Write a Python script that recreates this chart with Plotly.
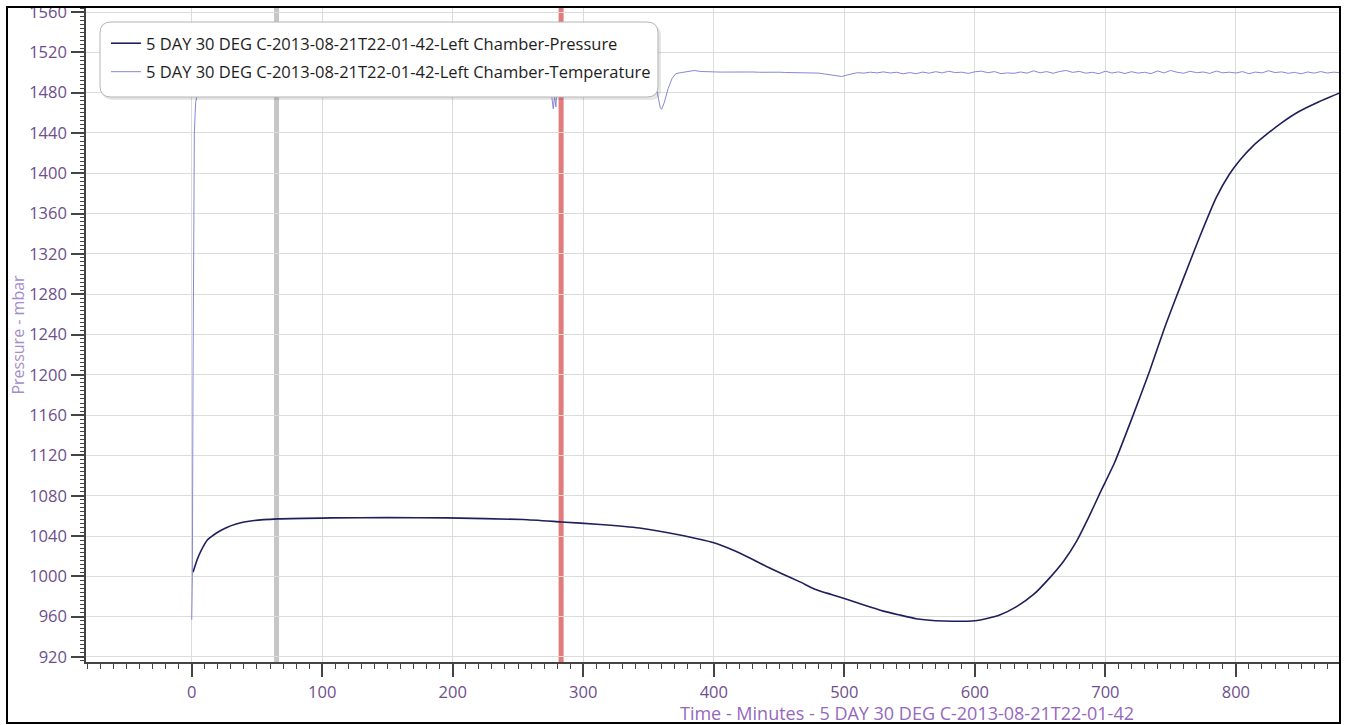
import plotly.graph_objects as go

# ---------------- data ----------------
pressure_time = [1, 4, 7, 12, 19, 26, 34, 48, 66, 107, 150, 196, 254, 283, 313, 343,
                 372, 400, 415, 428, 440, 453, 466, 478, 490, 500, 515, 530, 543, 555,
                 570, 583, 600, 610, 619, 632, 645, 657, 668, 678, 687, 696, 707, 721,
                 734, 746, 759, 772, 785, 795, 803, 813, 823, 835, 848, 862, 879]
pressure_val = [1004, 1016, 1025, 1036, 1043, 1048, 1052, 1055.4, 1057, 1058, 1058.3, 1058,
                1056.4, 1054, 1051.5, 1048, 1041.6, 1033.4, 1026, 1018, 1010, 1002, 994.5,
                987, 982, 978, 971.5, 965.5, 961.5, 958, 956, 955.5, 956, 958.5, 961.7, 970,
                982, 998, 1015, 1035, 1058, 1083, 1112.7, 1159, 1204, 1249, 1293, 1336,
                1376, 1399, 1413, 1427, 1438, 1450, 1461, 1470, 1479.5]

temp_time = [0, 0.5, 1, 1.5, 2, 3, 5, 8, 15, 60, 120, 180, 240, 270, 274, 276, 277, 278,
             279, 280, 283, 290, 320, 350, 354, 357, 359, 360, 362, 365, 368, 371, 375,
             380, 385, 390, 395,
             400, 405, 410, 415, 420, 425, 430, 435, 440, 445, 450, 455, 460, 465, 470,
             475, 480, 485, 490, 495, 498, 502, 506, 510, 515, 520, 525, 530, 535, 540,
             545, 550, 555, 560, 565, 570, 575, 580, 585, 590, 595, 600, 605, 610, 615,
             620, 625, 630, 635, 640, 645, 650, 655, 660, 665, 670, 675, 680, 685, 690,
             695, 700, 705, 710, 715, 720, 725, 730, 735, 740, 745, 750, 755, 760, 765,
             770, 775, 780, 785, 790, 795, 800, 805, 810, 815, 820, 825, 830, 835, 840,
             845, 850, 855, 860, 865, 870, 875, 880]
temp_val = [957, 1000, 1200, 1400, 1440, 1470, 1484, 1494, 1499, 1500, 1500, 1500, 1500,
            1500, 1496, 1478, 1464, 1476, 1466, 1488, 1499, 1500, 1500, 1499, 1494, 1478,
            1465, 1463.5, 1470, 1484, 1494, 1499, 1500, 1501, 1502, 1501, 1500.5,
            1500.6, 1500.4, 1500.5, 1500.2, 1500.4, 1500.3, 1500.5, 1500.2, 1500.4, 1500.5,
            1500.3, 1500.0, 1499.8, 1500.1, 1499.7, 1499.5, 1499.4, 1498.5, 1497.5, 1496.5,
            1496.0, 1497.5, 1499.0, 1499.8, 1499.4, 1500.3, 1499.6, 1500.6, 1499.5, 1500.2,
            1498.7, 1499.9, 1498.8, 1500.4, 1499.3, 1500.8, 1499.6, 1501.2, 1499.9, 1500.3,
            1499.1, 1500.7, 1501.3, 1499.8, 1500.9, 1498.9, 1499.6, 1499.2, 1500.5, 1499.4,
            1501.6, 1499.7, 1500.9, 1499.2, 1501.0, 1502.0, 1500.1, 1501.1, 1499.3, 1500.2,
            1498.8, 1501.3, 1499.5, 1500.6, 1499.0, 1500.8, 1499.4, 1500.2, 1498.9, 1501.5,
            1499.6, 1502.0, 1500.2, 1499.3, 1501.2, 1499.8, 1500.5, 1499.1, 1501.4, 1499.7,
            1500.3, 1499.5, 1500.9, 1498.8, 1500.4, 1499.6, 1501.8, 1499.9, 1500.6, 1499.2,
            1500.1, 1498.7, 1500.5, 1499.4, 1500.9, 1499.5, 1500.3, 1499.8]

marker_grey = 65
marker_red = 283

name_p = "5 DAY 30 DEG C-2013-08-21T22-01-42-Left Chamber-Pressure"
name_t = "5 DAY 30 DEG C-2013-08-21T22-01-42-Left Chamber-Temperature"
x_title = "Time - Minutes - 5 DAY 30 DEG C-2013-08-21T22-01-42"
y_title = "Pressure - mbar"

# ---------------- layout geometry (pixels) ----------------
W, H = 1346, 725
L, R, T, B = 86, 1339, 8, 662


def px(xp):
    return (xp - L) / (R - L)


def py(yp):
    return (B - yp) / (B - T)


def rounded_path(x0, y0, x1, y1, r):
    rx = r / (R - L)
    ry = r / (B - T)
    X0, X1 = px(x0), px(x1)
    Y0, Y1 = py(y0), py(y1)  # Y0 top, Y1 bottom
    return (f"M {X0+rx},{Y0} L {X1-rx},{Y0} Q {X1},{Y0} {X1},{Y0-ry} "
            f"L {X1},{Y1+ry} Q {X1},{Y1} {X1-rx},{Y1} L {X0+rx},{Y1} "
            f"Q {X0},{Y1} {X0},{Y1+ry} L {X0},{Y0-ry} Q {X0},{Y0} {X0+rx},{Y0} Z")


fig = go.Figure()
fig.add_trace(go.Scatter(x=pressure_time, y=pressure_val, mode="lines", name=name_p,
                         line=dict(color="#1f1f5c", width=1.6, shape="spline", smoothing=0.5),
                         legendgroup="p"))
fig.add_trace(go.Scatter(x=temp_time, y=temp_val, mode="lines", name=name_t,
                         line=dict(color="#8787d8", width=1),
                         legendgroup="t"))

tick_font = dict(family="Open Sans", size=16.5, color="#6e4f8e")

fig.update_layout(
    width=W, height=H,
    margin=dict(l=L, r=W - R, t=T, b=H - B, autoexpand=False),
    paper_bgcolor="white", plot_bgcolor="white",
    font=dict(family="Open Sans"),
    showlegend=True,
    legend=dict(x=px(106), y=py(26), xanchor="left", yanchor="top",
                bgcolor="rgba(0,0,0,0)", borderwidth=0,
                font=dict(family="Open Sans", size=16.5, color="#1e1e1e"),
                traceorder="grouped", tracegroupgap=4, itemwidth=30),
    xaxis=dict(range=[-81, 879], dtick=100, tick0=0, showgrid=True,
               gridcolor="#dcdcdc", gridwidth=1, zeroline=False,
               showline=True, linecolor="#444444", linewidth=1.5,
               ticks="outside", ticklen=13, tickwidth=1.5, tickcolor="#444444",
               tickfont=tick_font, ticklabelstandoff=1,
               minor=dict(dtick=10, ticks="outside", ticklen=5, tickcolor="#444444",
                          tickwidth=1, showgrid=False)),
    yaxis=dict(range=[915, 1564], dtick=40, tick0=920, showgrid=True,
               gridcolor="#dcdcdc", gridwidth=1, zeroline=False,
               showline=True, linecolor="#444444", linewidth=1.5,
               ticks="outside", ticklen=13, tickwidth=1.5, tickcolor="#444444",
               tickfont=tick_font, ticklabelstandoff=1, ticklabeloverflow="allow",
               title=dict(text=y_title, standoff=0,
                          font=dict(family="Open Sans", size=16, color="#a58dc9")),
               minor=dict(dtick=4, ticks="outside", ticklen=4, tickcolor="#444444",
                          tickwidth=1, showgrid=False)),
)

# marker lines
fig.add_shape(type="line", xref="x", yref="paper", x0=marker_grey, x1=marker_grey,
              y0=0, y1=1, line=dict(color="#c6c6c6", width=5), layer="between")
fig.add_shape(type="line", xref="x", yref="paper", x0=marker_red, x1=marker_red,
              y0=0, y1=1, line=dict(color="#e27c7c", width=5), layer="between")

# legend box with shadow
fig.add_shape(type="path", xref="paper", yref="paper",
              path=rounded_path(102, 25, 661, 100, 11),
              fillcolor="rgba(0,0,0,0.10)", line=dict(width=0), layer="above")
fig.add_shape(type="path", xref="paper", yref="paper",
              path=rounded_path(100, 22, 658, 97, 11),
              fillcolor="white", line=dict(color="#b4b4b4", width=1), layer="above")

# white band above the frame (clips the top tick label) and outer frame
fig.add_shape(type="rect", xref="paper", yref="paper",
              x0=px(0), x1=px(W), y0=py(6), y1=py(0),
              fillcolor="white", line=dict(width=0), layer="above")
fig.add_shape(type="rect", xref="paper", yref="paper",
              x0=px(7), x1=px(1340), y0=py(723), y1=py(7),
              fillcolor="rgba(0,0,0,0)", line=dict(color="black", width=2), layer="above")

# x-axis title (offset to the right like the reference)
fig.add_annotation(text=x_title, xref="paper", yref="paper",
                   x=px(907), y=py(713), xanchor="center", yanchor="middle",
                   showarrow=False,
                   font=dict(family="Open Sans", size=18, color="#9468bd"))

fig.write_html("out.html", config={"displayModeBar": False},
               post_script="document.body.style.margin='0';")
